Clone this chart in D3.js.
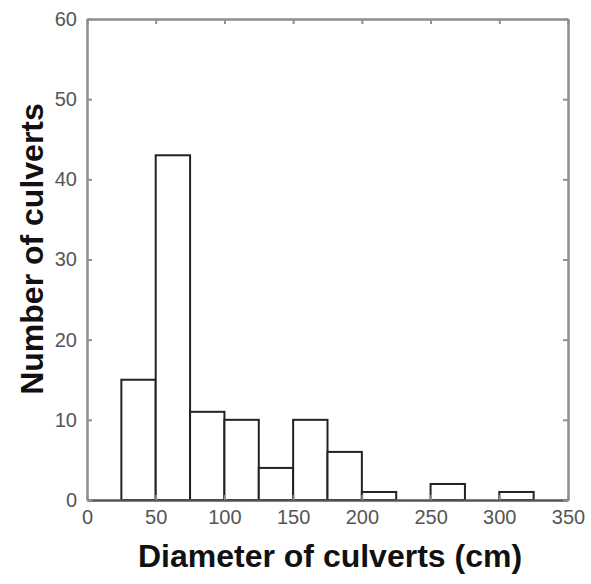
<!DOCTYPE html>
<html>
<head>
<meta charset="utf-8">
<script src="https://cdn.jsdelivr.net/npm/d3@7"></script>
<style>
  body { margin: 0; background: #fff; }
  text { font-family: "Liberation Sans", Arial, sans-serif; }
</style>
</head>
<body>
<svg id="chart" width="591" height="584"></svg>
<script>
// bin edges (cm) and counts of culverts per bin
let binStarts = [25, 50, 75, 100, 125, 150, 175, 200, 225, 250, 275, 300];
let binWidth = 25;
let counts = [15, 43, 11, 10, 4, 10, 6, 1, 0, 2, 0, 1];
let xTicks = [0, 50, 100, 150, 200, 250, 300, 350];
let yTicks = [0, 10, 20, 30, 40, 50, 60];

let svg = d3.select("#chart");
let plotLeft = 87, plotRight = 568, plotTop = 19, plotBottom = 500;

let x = d3.scaleLinear().domain([0, 350]).range([plotLeft, plotRight]);
let y = d3.scaleLinear().domain([0, 60]).range([plotBottom, plotTop]);

let data = binStarts.map((s, i) => ({ start: s, count: counts[i] }));

// bars
svg.selectAll(".bar")
    .data(data.filter(d => d.count > 0))
    .enter()
    .append("rect")
    .attr("class", "bar")
    .attr("x", d => x(d.start))
    .attr("y", d => y(d.count))
    .attr("width", d => x(d.start + binWidth) - x(d.start))
    .attr("height", d => y(0) - y(d.count))
    .attr("fill", "#fff")
    .attr("stroke", "#222")
    .attr("stroke-width", 2);

// axes with inward ticks on all four sides
let frame = "#8f8f8f";
let bottomAxis = svg.append("g")
    .attr("transform", `translate(0,${plotBottom})`)
    .call(d3.axisBottom(x).tickValues(xTicks).tickSizeInner(-5).tickSizeOuter(0).tickPadding(10));
let topAxis = svg.append("g")
    .attr("transform", `translate(0,${plotTop})`)
    .call(d3.axisTop(x).tickValues(xTicks).tickSizeInner(-5).tickSizeOuter(0).tickFormat(""));
let leftAxis = svg.append("g")
    .attr("transform", `translate(${plotLeft},0)`)
    .call(d3.axisLeft(y).tickValues(yTicks).tickSizeInner(-5).tickSizeOuter(0).tickPadding(10));
let rightAxis = svg.append("g")
    .attr("transform", `translate(${plotRight},0)`)
    .call(d3.axisRight(y).tickValues(yTicks).tickSizeInner(-5).tickSizeOuter(0).tickFormat(""));

[bottomAxis, topAxis, leftAxis, rightAxis].forEach(g => {
    g.select(".domain").attr("stroke", frame).attr("stroke-width", 2.5);
    g.selectAll(".tick line").attr("stroke", frame).attr("stroke-width", 2);
    g.selectAll(".tick text")
        .attr("fill", "#555")
        .style("font-size", "20px")
        .style("font-family", "Liberation Sans, Arial, sans-serif");
});
bottomAxis.select(".domain").attr("stroke", "#555");

// axis titles
svg.append("text")
    .attr("x", 330)
    .attr("y", 567)
    .attr("text-anchor", "middle")
    .attr("font-weight", "bold")
    .attr("font-size", 32)
    .attr("fill", "#111")
    .text("Diameter of culverts (cm)");

svg.append("text")
    .attr("transform", `translate(43,249) rotate(-90)`)
    .attr("text-anchor", "middle")
    .attr("font-weight", "bold")
    .attr("font-size", 32)
    .attr("fill", "#111")
    .text("Number of culverts");
</script>
</body>
</html>
